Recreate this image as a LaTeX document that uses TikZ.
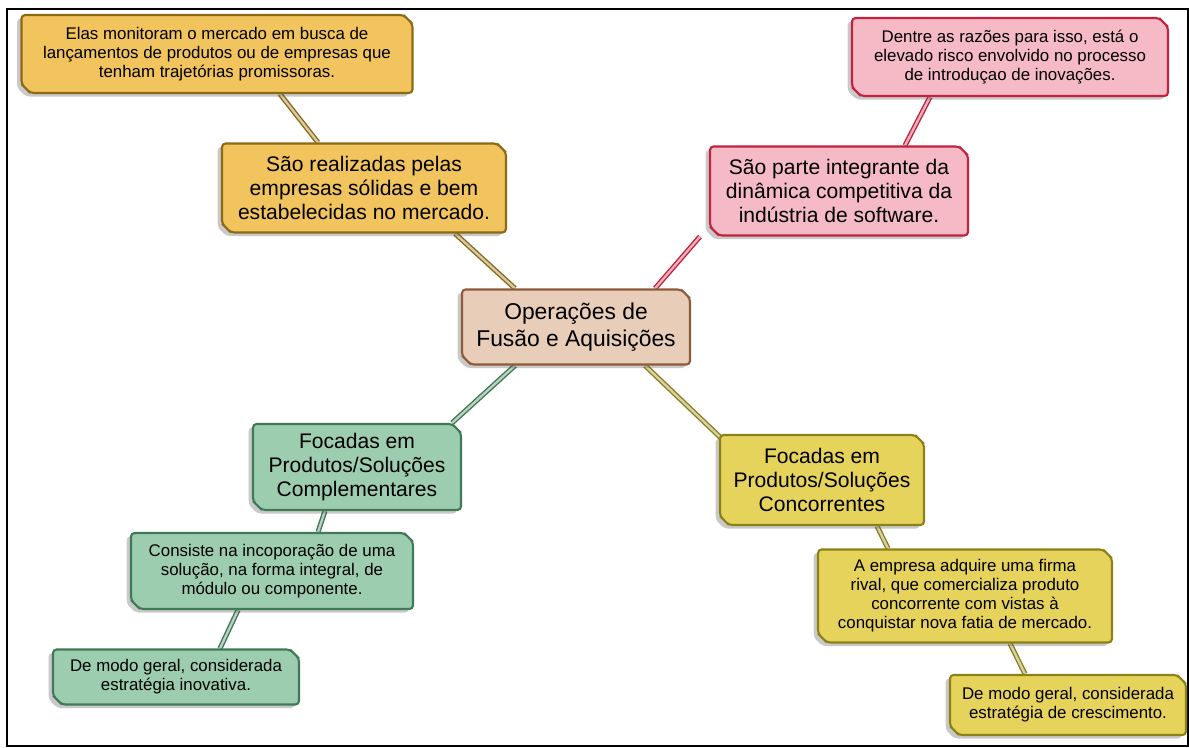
\documentclass[tikz,border=0pt]{standalone}
\usepackage{fontspec}
\setmainfont{Liberation Sans}
\usepackage{tikz}
\usetikzlibrary{shapes.misc,shadows,calc,backgrounds}

\definecolor{orangefill}{HTML}{F2C45E}
\definecolor{orangeline}{HTML}{8C6A14}
\definecolor{pinkfill}{HTML}{F5BAC6}
\definecolor{pinkline}{HTML}{C0223F}
\definecolor{centerfill}{HTML}{E8CDB8}
\definecolor{centerline}{HTML}{8E5B3A}
\definecolor{greenfill}{HTML}{9DCDAF}
\definecolor{greenline}{HTML}{3F7A55}
\definecolor{yellowfill}{HTML}{E5D35B}
\definecolor{yellowline}{HTML}{8C8018}

\begin{document}
\begin{tikzpicture}[x=0.02cm,y=-0.02cm,
  box/.style={chamfered rectangle,chamfered rectangle corners={north east,south west},
    chamfered rectangle xsep=2.5pt,chamfered rectangle ysep=2.5pt,rounded corners=2pt,
    line width=1.2pt,align=center,inner sep=2pt,
    drop shadow={shadow xshift=-2.5pt,shadow yshift=-2pt,opacity=0.3,fill=black!70}},
  small/.style={box,font=\fontsize{9.6}{10.8}\selectfont},
  big/.style={box,font=\fontsize{12}{13.6}\selectfont},
  orangebox/.style={fill=orangefill,draw=orangeline},
  pinkbox/.style={fill=pinkfill,draw=pinkline},
  greenbox/.style={fill=greenfill,draw=greenline},
  yellowbox/.style={fill=yellowfill,draw=yellowline},
  link/.style={draw=#1,double=#1!35,double distance=1.3pt,line width=0.8pt}]
\useasboundingbox (0,0) rectangle (1189,747);
\draw[line width=1.2pt] (7,9) rectangle (1188,746);

% central node
\node[box,fill=centerfill,draw=centerline,minimum width=4.56cm,minimum height=1.5cm,
  font=\fontsize{13}{15.3}\selectfont] (fusao) at (576,327) {Operações de\\Fusão e Aquisições};

% upper left
\node[big,orangebox,minimum width=5.68cm,minimum height=1.78cm] (solidas) at (364,188)
  {São realizadas pelas\\empresas sólidas e bem\\estabelecidas no mercado.};
\node[small,orangebox,minimum width=7.82cm,minimum height=1.56cm] (monitoram) at (217,54)
  {Elas monitoram o mercado em busca de\\lançamentos de produtos ou de empresas que\\tenham trajetórias promissoras.};

% upper right
\node[big,pinkbox,minimum width=5.16cm,minimum height=1.78cm] (dinamica) at (839,191)
  {São parte integrante da\\dinâmica competitiva da\\indústria de software.};
\node[small,pinkbox,minimum width=6.32cm,minimum height=1.56cm] (razoes) at (1010,57)
  {Dentre as razões para isso, está o\\elevado risco envolvido no processo\\de introduçao de inovações.};

% lower left
\node[big,greenbox,minimum width=4.16cm,minimum height=1.72cm] (complem) at (357,467)
  {Focadas em\\Produtos/Soluções\\Complementares};
\node[small,greenbox,minimum width=5.64cm,minimum height=1.52cm] (consiste) at (272,571)
  {Consiste na incoporação de uma\\solução, na forma integral, de\\módulo ou componente.};
\node[small,greenbox,minimum width=4.92cm,minimum height=1.1cm] (inovativa) at (176,677)
  {De modo geral, considerada\\estratégia inovativa.};

% lower right
\node[big,yellowbox,minimum width=4.08cm,minimum height=1.8cm] (concorr) at (822,480)
  {Focadas em\\Produtos/Soluções\\Concorrentes};
\node[small,yellowbox,minimum width=5.88cm,minimum height=1.86cm] (rival) at (965,596)
  {A empresa adquire uma firma\\rival, que comercializa produto\\concorrente com vistas à\\conquistar nova fatia de mercado.};
\node[small,yellowbox,minimum width=4.72cm,minimum height=1.2cm] (crescimento) at (1068,705)
  {De modo geral, considerada\\estratégia de crescimento.};

\begin{scope}[on background layer]
\draw[link=orangeline] ($(monitoram.south)+(63,0)$) -- ($(solidas.north)+(-46,0)$);
\draw[link=orangeline] ($(solidas.south)+(91,0)$) -- ($(fusao.north)+(-61,0)$);
\draw[link=pinkline] ($(razoes.south)+(-80,0)$) -- ($(dinamica.north)+(66,0)$);
\draw[link=pinkline] ($(dinamica.south)+(-139,0)$) -- ($(fusao.north)+(79,0)$);
\draw[link=greenline] ($(fusao.south)+(-61,0)$) -- ($(complem.north)+(95,0)$);
\draw[link=greenline] ($(complem.south)+(-32,0)$) -- ($(consiste.north)+(46,0)$);
\draw[link=greenline] ($(consiste.south)+(-34,0)$) -- ($(inovativa.north)+(44,0)$);
\draw[link=yellowline] ($(fusao.south)+(69,0)$) -- ($(concorr.north)+(-100,5)$);
\draw[link=yellowline] ($(concorr.south)+(55,0)$) -- ($(rival.north)+(-77,0)$);
\draw[link=yellowline] ($(rival.south)+(45,0)$) -- ($(crescimento.north)+(-43,0)$);
\end{scope}
\end{tikzpicture}
\end{document}
